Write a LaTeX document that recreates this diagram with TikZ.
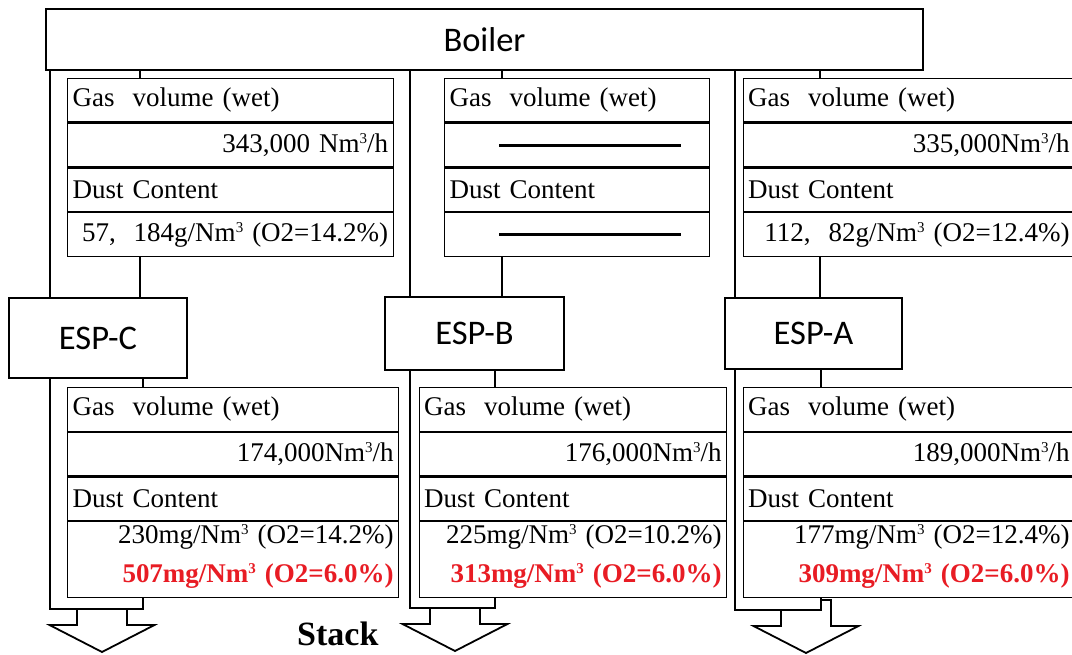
\documentclass[tikz,border=0pt]{standalone}
\usepackage{fontspec}
\setmainfont{Liberation Serif}
\newfontfamily\unitfont{Carlito}
\usetikzlibrary{positioning}

\definecolor{flagred}{RGB}{232,28,36}
\newcommand\cubic{\raisebox{9pt}{\fontsize{15}{15}\selectfont 3}}

\tikzset{
    unit/.style={draw, line width=2pt, anchor=north west, inner sep=0pt, font=\unitfont\fontsize{34.5}{40}\selectfont},
    cell/.style={draw, line width=1.2pt, anchor=north west, inner xsep=5pt, inner ysep=0pt, minimum height=43.5pt, text width=#1, font=\fontsize{27}{39}\selectfont},
    pipe/.style={line width=1.8pt},
    outlet/.pic={\draw[pipe] (-25,0) -- (-25,16) -- (-52.5,16) -- (0,43) -- (52.5,16) -- (25,16) -- (25,0);}
}

\begin{document}
\begin{tikzpicture}[x=1pt, y=-1pt]
        \useasboundingbox (0,0) rectangle (1072,655);

        \node[unit, minimum width=877pt, minimum height=61pt] (boiler) at (45,8) {Boiler};
        \node[unit, minimum width=178pt, minimum height=80pt] (espC) at (8,297) {ESP-C};
        \node[unit, minimum width=179pt, minimum height=73pt] (espB) at (384,296) {ESP-B};
        \node[unit, minimum width=177pt, minimum height=71pt] (espA) at (724,297) {ESP-A};

        % inlet data
        \node[cell=315.6pt, align=left] (cin1) at (67,78) {Gas\ \ volume (wet)};
        \node[cell=315.6pt, align=right] (cin2) at (cin1.south west) {343,000 Nm\cubic/h};
        \node[cell=315.6pt, align=left] (cin3) at (cin2.south west) {Dust Content};
        \node[cell=315.6pt, align=right] (cin4) at (cin3.south west) {57,\ \ 184g/Nm\cubic\ (O2=14.2\%)};

        \node[cell=255pt, align=left] (bin1) at (444,78) {Gas\ \ volume (wet)};
        \node[cell=255pt, align=right] (bin2) at (bin1.south west) {};
        \node[cell=255pt, align=left] (bin3) at (bin2.south west) {Dust Content};
        \node[cell=255pt, align=right] (bin4) at (bin3.south west) {};
        \draw[line width=3pt] ([xshift=55pt]bin2.west) -- ([xshift=-29pt]bin2.east);
        \draw[line width=3pt] ([xshift=55pt]bin4.west) -- ([xshift=-29pt]bin4.east);

        \node[cell=321.5pt, align=left] (ain1) at (742.5,78) {Gas\ \ volume (wet)};
        \node[cell=321.5pt, align=right] (ain2) at (ain1.south west) {335,000Nm\cubic/h};
        \node[cell=321.5pt, align=left] (ain3) at (ain2.south west) {Dust Content};
        \node[cell=321.5pt, align=right] (ain4) at (ain3.south west) {112,\ \ 82g/Nm\cubic\ (O2=12.4\%)};

        % outlet data
        \node[cell=321pt, align=left] (cout1) at (67,387) {Gas\ \ volume (wet)};
        \node[cell=321pt, align=right] (cout2) at (cout1.south west) {174,000Nm\cubic/h};
        \node[cell=321pt, align=left] (cout3) at (cout2.south west) {Dust Content};
        \node[cell=321pt, align=right, minimum height=76pt] (cout4) at (cout3.south west) {230mg/Nm\cubic\ (O2=14.2\%)\\ \textcolor{flagred}{\bfseries 507mg/Nm\cubic\ (O2=6.0\%)}\rule[-12pt]{0pt}{1pt}};

        \node[cell=297.5pt, align=left] (bout1) at (418.5,387) {Gas\ \ volume (wet)};
        \node[cell=297.5pt, align=right] (bout2) at (bout1.south west) {176,000Nm\cubic/h};
        \node[cell=297.5pt, align=left] (bout3) at (bout2.south west) {Dust Content};
        \node[cell=297.5pt, align=right, minimum height=76pt] (bout4) at (bout3.south west) {225mg/Nm\cubic\ (O2=10.2\%)\\ \textcolor{flagred}{\bfseries 313mg/Nm\cubic\ (O2=6.0\%)}\rule[-12pt]{0pt}{1pt}};

        \node[cell=321.5pt, align=left] (aout1) at (742.5,387) {Gas\ \ volume (wet)};
        \node[cell=321.5pt, align=right] (aout2) at (aout1.south west) {189,000Nm\cubic/h};
        \node[cell=321.5pt, align=left] (aout3) at (aout2.south west) {Dust Content};
        \node[cell=321.5pt, align=right, minimum height=76pt] (aout4) at (aout3.south west) {177mg/Nm\cubic\ (O2=12.4\%)\\ \textcolor{flagred}{\bfseries 309mg/Nm\cubic\ (O2=6.0\%)}\rule[-12pt]{0pt}{1pt}};

        % pipe positions
        \coordinate (cup) at (140,0);
        \coordinate (cl) at (50,609);
        \coordinate (cr) at (143,609);
        \coordinate (bup) at (502,0);
        \coordinate (bl) at (410,608);
        \coordinate (br) at (495,608);
        \coordinate (aup) at (820,0);
        \coordinate (al) at (735,610);
        \coordinate (ar) at (821,610);

        \draw[pipe] (boiler.south -| cl) -- (espC.north -| cl);
        \draw[pipe] (boiler.south -| cup) -- (cin1.north -| cup);
        \draw[pipe] (cin4.south -| cup) -- (espC.north -| cup);
        \draw[pipe] (espC.south -| cr) -- (cout1.north -| cr);
        \draw[pipe] (espC.south -| cl) -- (cl) -- (cr) -- (cout4.south -| cr);

        \draw[pipe] (boiler.south -| bl) -- (espB.north -| bl);
        \draw[pipe] (boiler.south -| bup) -- (bin1.north -| bup);
        \draw[pipe] (bin4.south -| bup) -- (espB.north -| bup);
        \draw[pipe] (espB.south -| br) -- (bout1.north -| br);
        \draw[pipe] (espB.south -| bl) -- (bl) -- (br) -- (bout4.south -| br);

        \draw[pipe] (boiler.south -| al) -- (espA.north -| al);
        \draw[pipe] (boiler.south -| aup) -- (ain1.north -| aup);
        \draw[pipe] (ain4.south -| aup) -- (espA.north -| aup);
        \draw[pipe] (espA.south -| ar) -- (aout1.north -| ar);
        \draw[pipe] (espA.south -| al) -- (al) -- (ar) -- (aout4.south -| ar);

        % to stack
        \pic at (102,609) {outlet};
        \pic at (455,608) {outlet};
        \pic at (806,610) {outlet};
        \draw[pipe] (831,611) -- (831,600) -- (ar |- 0,600);

        \node[anchor=base west, inner sep=0pt, font=\bfseries\fontsize{34}{40}\selectfont] (stack) at (297,645) {Stack};

\end{tikzpicture}
\end{document}
